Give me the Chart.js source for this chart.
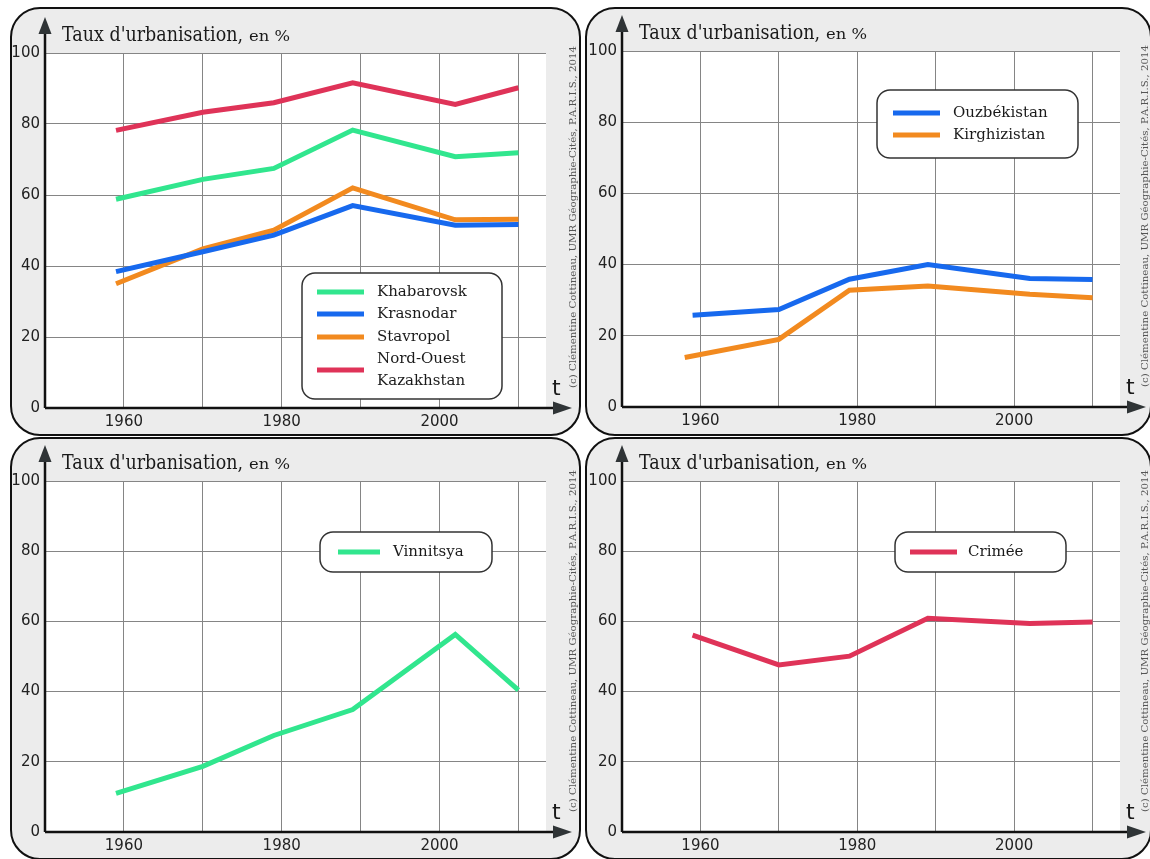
<!DOCTYPE html>
<html>
<head>
<meta charset="utf-8">
<script src="https://cdn.jsdelivr.net/npm/chart.js@4.4.1/dist/chart.umd.min.js"></script>
<style>
  html, body { margin: 0; padding: 0; background: #fff; }
  body { width: 1150px; height: 859px; position: relative; overflow: hidden; }
  .panel { position: absolute; box-sizing: border-box; border: 2px solid #111; border-radius: 30px; background: #ececec; }
  canvas { position: absolute; }
</style>
</head>
<body>
<div class="panel" style="left:10px;top:7px;width:571px;height:429px"></div>
<div class="panel" style="left:585px;top:7px;width:567px;height:429px"></div>
<div class="panel" style="left:10px;top:437px;width:571px;height:423px"></div>
<div class="panel" style="left:585px;top:437px;width:567px;height:423px"></div>
<canvas id="c1"></canvas>
<canvas id="c2"></canvas>
<canvas id="c3"></canvas>
<canvas id="c4"></canvas>
<script>
// Taux d'urbanisation, 4 petits graphiques

// axes
const xGridYears = [1960, 1970, 1980, 1990, 2000, 2010];
const xLabelYears = [1960, 1980, 2000];

// recensements
const censusYears = [1959, 1970, 1979, 1989, 2002, 2010];
const kirghizYears = [1958, 1970, 1979, 1989, 2002, 2010];

// panneau 1
const labels1 = ['Khabarovsk', 'Krasnodar', 'Stavropol', 'Nord-Ouest\nKazakhstan'];
const khabarovsk = [58.8, 64.4, 67.5, 78.3, 70.8, 71.9];
const krasnodar = [38.4, 44.0, 48.7, 57.0, 51.5, 51.7];
const stavropol = [35.0, 44.8, 50.1, 62.0, 53.0, 53.2];
const nordOuestKaz = [78.2, 83.3, 86.0, 91.6, 85.5, 90.2];

// panneau 2
const labels2 = ['Ouzbékistan', 'Kirghizistan'];
const ouzbekistan = [25.8, 27.4, 35.9, 40.0, 36.1, 35.8];
const kirghizistan = [13.9, 19.0, 32.8, 34.0, 31.7, 30.7];

// panneaux 3 et 4
const vinnitsya = [11.0, 18.7, 27.5, 34.9, 56.3, 40.4];
const crimee = [56.1, 47.6, 50.1, 60.9, 59.4, 59.8];

const axisTitle = "Taux d'urbanisation,";
const axisUnit = "en %";
const creditText = "(c) Clémentine Cottineau, UMR Géographie-Cités, P.A.R.I.S., 2014";

const GREEN = '#31e68e', BLUE = '#1769ee', ORANGE = '#f28a1f', RED = '#df3358';

function pts(years, values) {
  return years.map((x, i) => ({ x: x, y: values[i] }));
}

// draw text at a given size, squeezed horizontally to a target width
function squeezeText(ctx, text, font, x, y, target) {
  ctx.font = font;
  const k = target / ctx.measureText(text).width;
  ctx.save();
  ctx.translate(x, y);
  ctx.scale(k, 1);
  ctx.fillText(text, 0, 0);
  ctx.restore();
}

const decorPlugin = {
  id: 'decor',
  beforeDraw(chart) {
    const a = chart.chartArea, ctx = chart.ctx;
    ctx.save();
    ctx.fillStyle = '#fff';
    ctx.fillRect(a.left, a.top, a.right - a.left, a.bottom - a.top);
    ctx.restore();
  },
  afterDraw(chart, args, o) {
    const a = chart.chartArea, ctx = chart.ctx;
    const ox = o.origin[0], oy = o.origin[1];
    ctx.save();

    // axes + fleches
    ctx.strokeStyle = '#111';
    ctx.lineWidth = 2.5;
    ctx.beginPath();
    ctx.moveTo(a.left, a.bottom);
    ctx.lineTo(a.left, a.top - 20);
    ctx.moveTo(a.left, a.bottom);
    ctx.lineTo(a.right + 10, a.bottom);
    ctx.stroke();
    ctx.fillStyle = '#2f3436';
    ctx.beginPath();
    ctx.moveTo(a.left, a.top - 36);
    ctx.lineTo(a.left - 6.5, a.top - 19);
    ctx.lineTo(a.left + 6.5, a.top - 19);
    ctx.closePath();
    ctx.fill();
    ctx.beginPath();
    ctx.moveTo(a.right + 26, a.bottom);
    ctx.lineTo(a.right + 7, a.bottom - 6.5);
    ctx.lineTo(a.right + 7, a.bottom + 6.5);
    ctx.closePath();
    ctx.fill();

    // titre de l'axe
    ctx.fillStyle = '#1a1a1a';
    ctx.textBaseline = 'alphabetic';
    ctx.textAlign = 'left';
    squeezeText(ctx, axisTitle, '20px "DejaVu Serif"', a.left + 17, a.top - 12, 181);
    squeezeText(ctx, axisUnit, '15px "DejaVu Serif"', a.left + 204, a.top - 12, 41);

    // t
    ctx.font = '22px "DejaVu Sans"';
    ctx.fillText('t', a.right + 6, a.bottom - 13);

    // credit
    ctx.save();
    ctx.translate(o.creditX - ox, a.bottom - 20);
    ctx.rotate(-Math.PI / 2);
    ctx.fillStyle = '#555';
    ctx.textBaseline = 'middle';
    squeezeText(ctx, creditText, '10px "DejaVu Serif"', 0, 0, 342);
    ctx.restore();

    // legende
    const L = o.legend;
    const bx = L.box[0] - ox, by = L.box[1] - oy, bw = L.box[2] - L.box[0], bh = L.box[3] - L.box[1];
    ctx.beginPath();
    ctx.roundRect(bx, by, bw, bh, 13);
    ctx.fillStyle = '#fff';
    ctx.fill();
    ctx.lineWidth = 1.5;
    ctx.strokeStyle = '#333';
    ctx.stroke();
    ctx.font = '15px "DejaVu Serif"';
    ctx.textBaseline = 'middle';
    chart.data.datasets.forEach((ds, i) => {
      const ry = L.rows[i] - oy;
      ctx.strokeStyle = ds.borderColor;
      ctx.lineWidth = 5;
      ctx.beginPath();
      ctx.moveTo(L.line[0] - ox, ry);
      ctx.lineTo(L.line[1] - ox, ry);
      ctx.stroke();
      ctx.fillStyle = '#1a1a1a';
      const lines = ds.label.split('\n');
      lines.forEach((t, k) => {
        ctx.fillText(t, L.textX - ox, ry + (k - (lines.length - 1) / 2) * 22);
      });
    });
    ctx.restore();
  }
};

const panels = [
  { id: 'c1', box: [10, 7, 571, 429], area: [45, 53, 546, 408], creditX: 573,
    series: [[labels1[0], censusYears, khabarovsk, GREEN], [labels1[1], censusYears, krasnodar, BLUE],
             [labels1[2], censusYears, stavropol, ORANGE], [labels1[3], censusYears, nordOuestKaz, RED]],
    legend: { box: [302, 273, 502, 399], rows: [292, 314, 337, 370], line: [317, 364], textX: 377 } },
  { id: 'c2', box: [585, 7, 567, 429], area: [622, 51, 1120, 407], creditX: 1145,
    series: [[labels2[0], censusYears, ouzbekistan, BLUE], [labels2[1], kirghizYears, kirghizistan, ORANGE]],
    legend: { box: [877, 90, 1078, 158], rows: [113, 135], line: [893, 940], textX: 953 } },
  { id: 'c3', box: [10, 437, 571, 423], area: [45, 481, 546, 832], creditX: 573,
    series: [['Vinnitsya', censusYears, vinnitsya, GREEN]],
    legend: { box: [320, 532, 492, 572], rows: [552], line: [338, 380], textX: 393 } },
  { id: 'c4', box: [585, 437, 567, 423], area: [622, 481, 1120, 832], creditX: 1145,
    series: [['Crimée', censusYears, crimee, RED]],
    legend: { box: [895, 532, 1066, 572], rows: [552], line: [910, 957], textX: 968 } }
];

const tickFont = { family: 'DejaVu Sans', size: 15 };

panels.forEach(p => {
  const cv = document.getElementById(p.id);
  cv.width = p.box[2];
  cv.height = p.box[3];
  cv.style.left = p.box[0] + 'px';
  cv.style.top = p.box[1] + 'px';
  const yW = p.area[0] - p.box[0];
  const xH = p.box[1] + p.box[3] - p.area[3];
  new Chart(cv, {
    type: 'line',
    data: {
      datasets: p.series.map(s => ({
        label: s[0],
        data: pts(s[1], s[2]),
        borderColor: s[3],
        backgroundColor: s[3],
        borderWidth: 5,
        pointRadius: 0,
        tension: 0,
        fill: false
      }))
    },
    options: {
      responsive: false,
      animation: false,
      layout: {
        padding: {
          left: 0,
          top: p.area[1] - p.box[1],
          right: p.box[0] + p.box[2] - p.area[2],
          bottom: 0
        }
      },
      plugins: {
        legend: { display: false },
        tooltip: { enabled: false },
        decor: { origin: [p.box[0], p.box[1]], legend: p.legend, creditX: p.creditX }
      },
      scales: {
        x: {
          type: 'linear', min: 1950, max: 2013.5,
          afterBuildTicks: s => { s.ticks = xGridYears.map(v => ({ value: v })); },
          afterFit: s => { s.height = xH; },
          grid: { color: '#858585', lineWidth: 1, drawTicks: false },
          border: { display: false },
          ticks: {
            autoSkip: false, maxRotation: 0, padding: 5, color: '#222', font: tickFont,
            callback: v => xLabelYears.includes(v) ? String(v) : ''
          }
        },
        y: {
          min: 0, max: 100,
          afterFit: s => { s.width = yW; },
          grid: { color: '#858585', lineWidth: 1, drawTicks: false },
          border: { display: false },
          ticks: { stepSize: 20, padding: 5, color: '#222', font: tickFont }
        }
      }
    },
    plugins: [decorPlugin]
  });
});
</script>
</body>
</html>
